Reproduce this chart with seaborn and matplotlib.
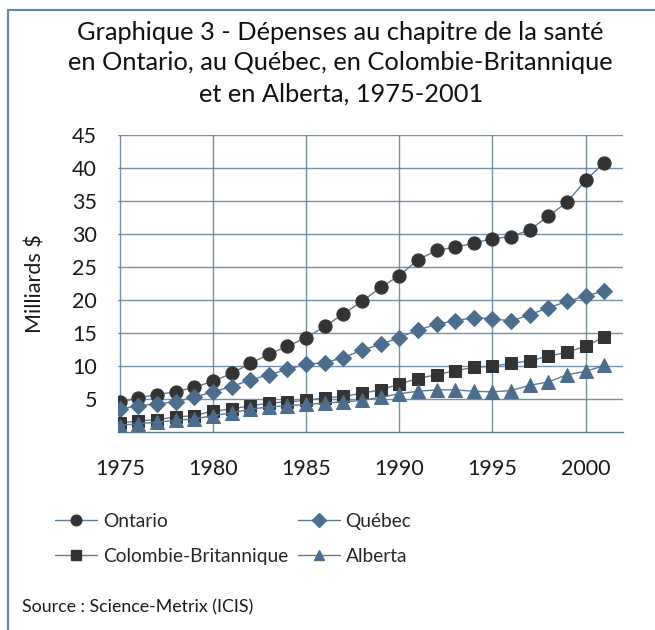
import pandas as pd
import matplotlib
matplotlib.use("Agg")
import matplotlib.pyplot as plt
import seaborn as sns
from matplotlib.lines import Line2D

# Data (milliards $)
years = list(range(1975, 2002))
ontario = [4.5, 5.2, 5.7, 6.1, 6.8, 7.7, 8.9, 10.4, 11.8, 13.0, 14.3, 16.0, 17.9, 19.8,
           21.9, 23.7, 26.1, 27.5, 28.0, 28.6, 29.3, 29.6, 30.6, 32.7, 34.8, 38.1, 40.8]
quebec = [3.5, 4.0, 4.3, 4.6, 5.3, 6.1, 6.9, 7.9, 8.7, 9.5, 10.3, 10.5, 11.3, 12.4,
          13.3, 14.3, 15.5, 16.3, 16.9, 17.3, 17.2, 16.8, 17.8, 18.8, 19.8, 20.6, 21.4]
colombie = [1.4, 1.7, 1.9, 2.3, 2.5, 3.2, 3.5, 4.0, 4.4, 4.6, 4.8, 5.2, 5.4, 5.9,
            6.4, 7.3, 8.1, 8.7, 9.3, 9.8, 10.0, 10.4, 10.8, 11.5, 12.1, 13.0, 14.4]
alberta = [1.0, 1.3, 1.5, 1.8, 2.0, 2.5, 2.9, 3.5, 3.8, 4.0, 4.2, 4.4, 4.6, 4.8,
           5.3, 5.8, 6.2, 6.4, 6.4, 6.2, 6.1, 6.3, 7.1, 7.6, 8.7, 9.2, 10.1]

series = {
    "Ontario": ontario,
    "Québec": quebec,
    "Colombie-Britannique": colombie,
    "Alberta": alberta,
}

DARK = "#333333"
BLUE = "#4d6d8e"
LINE = "#5b7b9c"
GRID = "#5f7d9b"
TXT = "#1a1a1a"

styles = {
    "Ontario": dict(marker="o", mfc=DARK, ms=9.5),
    "Québec": dict(marker="D", mfc=BLUE, ms=8.5),
    "Colombie-Britannique": dict(marker="s", mfc=DARK, ms=9),
    "Alberta": dict(marker="^", mfc=BLUE, ms=9.5),
}

df = pd.DataFrame({"Year": years * 4,
                   "Province": sum([[k] * len(years) for k in series], []),
                   "Value": sum(series.values(), [])})

sns.set_style("white")
plt.rcParams["font.family"] = ["Lato", "DejaVu Sans"]

fig = plt.figure(figsize=(6.55, 6.3), dpi=100)
ax = fig.add_axes([0.18, 0.314, 0.771, 0.472])

for name in series:
    st = styles[name]
    sub = df[df["Province"] == name]
    sns.lineplot(data=sub, x="Year", y="Value", ax=ax, color=LINE, lw=1,
                 marker=st["marker"], markersize=st["ms"],
                 markerfacecolor=st["mfc"], markeredgecolor=st["mfc"],
                 label=name, legend=False, zorder=3)

ax.set_xlim(1974.9, 2002)
ax.set_ylim(0, 45)
ax.set_yticks(range(5, 50, 5))
ax.set_xticks(range(1975, 2001, 5))
ax.grid(True, color=GRID, lw=1, alpha=0.85)
ax.set_axisbelow(True)
for s in ["top", "right", "left"]:
    ax.spines[s].set_visible(False)
ax.spines["bottom"].set_color(GRID)
ax.spines["bottom"].set_linewidth(1)
ax.tick_params(axis="x", length=7, width=1, colors=GRID, labelcolor=TXT, labelsize=15.5, pad=12)
ax.tick_params(axis="y", length=0, labelsize=15.5, pad=15, labelcolor=TXT)
ax.set_xlabel("")
ax.set_ylabel("Milliards $", fontsize=15.5, color=TXT, labelpad=19)

fig.text(0.52, 0.9, "Graphique 3 - Dépenses au chapitre de la santé\n"
         "en Ontario, au Québec, en Colombie-Britannique\n"
         "et en Alberta, 1975-2001",
         ha="center", va="center", fontsize=18.3, linespacing=1.42, color="#111111")

handles = {}
for name in series:
    st = styles[name]
    handles[name] = Line2D([], [], color=LINE, lw=1, marker=st["marker"],
                           ms=st["ms"] * 0.8, mfc=st["mfc"], mec=st["mfc"])
order = ["Ontario", "Colombie-Britannique", "Québec", "Alberta"]
fig.legend([handles[k] for k in order], order, ncol=2, loc="center left",
           bbox_to_anchor=(0.072, 1 - 539 / 630), frameon=False, fontsize=13.8,
           handlelength=2.2, handletextpad=0.3, columnspacing=0.5,
           labelspacing=0.95, borderaxespad=0)

fig.text(0.034, 1 - 607 / 630, "Source : Science-Metrix (ICIS)", fontsize=12.8,
         color=TXT, va="center")

# frame lines (top and left)
fig.add_artist(Line2D([8 / 655, 1], [1 - 10 / 630, 1 - 10 / 630], color="#5f86ad", lw=1.5))
fig.add_artist(Line2D([8 / 655, 8 / 655], [0, 1 - 10 / 630], color="#5f86ad", lw=1.5))

fig.savefig("out.png", dpi=100)
